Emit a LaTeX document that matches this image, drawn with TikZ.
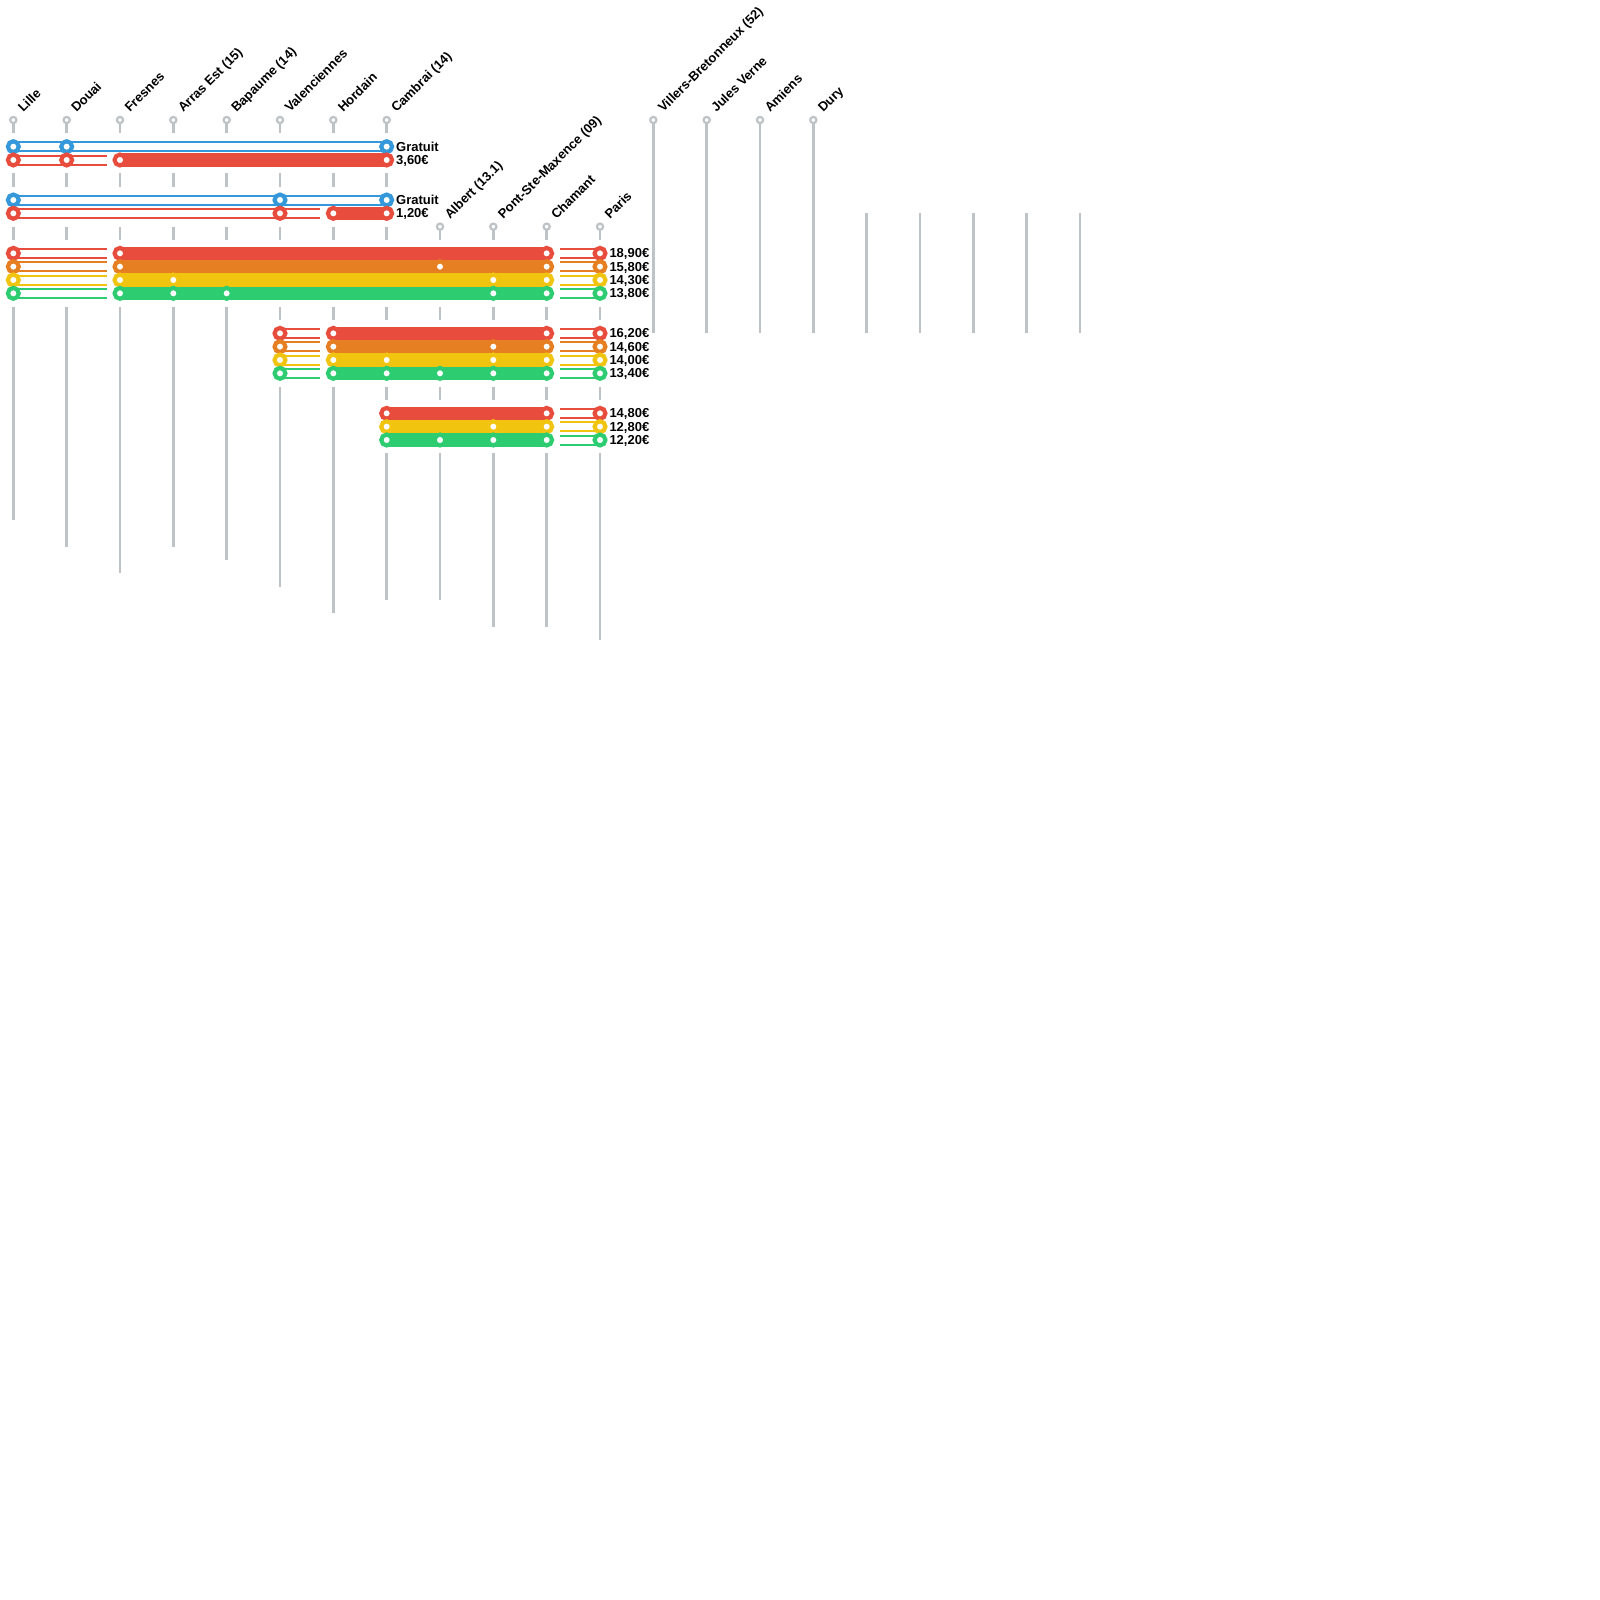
\documentclass[tikz,border=0pt]{standalone}
\usepackage{fontspec}
\setmainfont{Liberation Sans}
\usetikzlibrary{calc}
\definecolor{cblue}{HTML}{3498DB}
\definecolor{cred}{HTML}{E74C3C}
\definecolor{corange}{HTML}{E67E22}
\definecolor{cyellow}{HTML}{F1C40F}
\definecolor{cgreen}{HTML}{2ECC71}
\definecolor{cgray}{HTML}{BDC3C7}
\newcommand\ob[3]{\draw[obar=#1] (#2) -- (#3); \draw[oin] (#2) -- (#3);}
\newcommand\fb[3]{\draw[fbar=#1] (#2) -- (#3);}
\newcommand\rg[3]{\node[ring=#1] (r#2-#3) at (c#3|-k#2) {};}
% full fare row: colour, row, start column, fill start column, price
\newcommand\grow[5]{%
  \coordinate (L#2) at ($(c#4|-k#2)+(-13.3333,0)$);
  \coordinate (R#2) at ($(c10|-k#2)+(13.3333,0)$);
  \ob{#1}{c#3|-k#2}{L#2}
  \fb{#1}{c#4|-k#2}{c10|-k#2}
  \ob{#1}{R#2}{c11|-k#2}
  \rg{#1}{#2}{#3}\rg{#1}{#2}{#4}\rg{#1}{#2}{10}\rg{#1}{#2}{11}
  \node[price] (p#2) at (c11|-k#2) {#5};}
% fare row without left part: colour, row, price
\newcommand\hrow[3]{%
  \coordinate (R#2) at ($(c10|-k#2)+(13.3333,0)$);
  \fb{#1}{c7|-k#2}{c10|-k#2}
  \ob{#1}{R#2}{c11|-k#2}
  \rg{#1}{#2}{7}\rg{#1}{#2}{10}\rg{#1}{#2}{11}
  \node[price] (p#2) at (c11|-k#2) {#3};}
\begin{document}
\begin{tikzpicture}[x=1pt,y=-1pt,
  grayline/.style={draw=cgray,line width=2.8pt},
  marker/.style={circle,draw=cgray,fill=white,line width=2.2pt,minimum size=6.2pt,inner sep=0pt},
  ring/.style={circle,draw=#1,fill=white,line width=4.2pt,minimum size=10.8pt,inner sep=0pt},
  fbar/.style={draw=#1,line width=13.3333pt},
  obar/.style={draw=#1,line width=11pt},
  oin/.style={draw=white,line width=7pt},
  txt/.style={font=\fontsize{13pt}{15pt}\selectfont\bfseries,inner sep=0pt,outer sep=0pt},
  stlabel/.style={txt,anchor=base west,rotate=45},
  price/.style={txt,anchor=base west,xshift=9.5pt,yshift=-4.5pt},
]
\fill[white] (0,0) rectangle (1600,1600);
\useasboundingbox (0,0) rectangle (1600,1600);
\foreach \i in {0,...,20} \coordinate (c\i) at ({13.3333+53.3333*\i},0);
\foreach \k in {0,...,40} \coordinate (k\k) at (0,{120+13.3333*\k});
% gray station lines
\foreach \i/\s/\e in {0/0/30,1/0/32,2/0/34,3/0/32,4/0/33,5/0/35,6/0/37,7/0/36,
  8/8/36,9/8/38,10/8/38,11/8/39,12/0/16,13/0/16,14/0/16,15/0/16,
  16/7/16,17/7/16,18/7/16,19/7/16,20/7/16}
  \draw[grayline] (c\i|-k\s) -- (c\i|-k\e);
% white gaps around fare groups
\fill[white] ($(c0|-k1)+(-9,0)$) rectangle ($(c7|-k4)+(9,0)$);
\fill[white] ($(c0|-k5)+(-9,0)$) rectangle ($(c7|-k8)+(9,0)$);
\fill[white] ($(c0|-k9)+(-9,0)$) rectangle ($(c11|-k14)+(9,0)$);
\fill[white] ($(c5|-k15)+(-9,0)$) rectangle ($(c11|-k20)+(9,0)$);
\fill[white] ($(c7|-k21)+(-9,0)$) rectangle ($(c11|-k25)+(9,0)$);
% station markers and names
\foreach \i/\s/\name in {0/0/Lille,1/0/Douai,2/0/Fresnes,3/0/Arras Est (15),
  4/0/Bapaume (14),5/0/Valenciennes,6/0/Hordain,7/0/Cambrai (14),
  8/8/Albert (13.1),9/8/Pont-Ste-Maxence (09),10/8/Chamant,11/8/Paris,
  12/0/Villers-Bretonneux (52),13/0/Jules Verne,14/0/Amiens,15/0/Dury}
{
  \node[marker] (m\i) at (c\i|-k\s) {};
  \node[stlabel] (n\i) at ([xshift=10pt,yshift=7pt]m\i.center) {\name};
}
% group 1
\ob{cblue}{c0|-k2}{c7|-k2}
\rg{cblue}{2}{0}\rg{cblue}{2}{1}\rg{cblue}{2}{7}
\node[price] (p2) at (c7|-k2) {Gratuit};
\coordinate (L3) at ($(c2|-k3)+(-13.3333,0)$);
\ob{cred}{c0|-k3}{L3}
\fb{cred}{c2|-k3}{c7|-k3}
\rg{cred}{3}{0}\rg{cred}{3}{1}\rg{cred}{3}{2}\rg{cred}{3}{7}
\node[price] (p3) at (c7|-k3) {3,60€};
% group 2
\ob{cblue}{c0|-k6}{c7|-k6}
\rg{cblue}{6}{0}\rg{cblue}{6}{5}\rg{cblue}{6}{7}
\node[price] (p6) at (c7|-k6) {Gratuit};
\coordinate (L7) at ($(c6|-k7)+(-13.3333,0)$);
\ob{cred}{c0|-k7}{L7}
\fb{cred}{c6|-k7}{c7|-k7}
\rg{cred}{7}{0}\rg{cred}{7}{5}\rg{cred}{7}{6}\rg{cred}{7}{7}
\node[price] (p7) at (c7|-k7) {1,20€};
% group 3
\grow{cred}{10}{0}{2}{18,90€}
\grow{corange}{11}{0}{2}{15,80€}
\rg{corange}{11}{8}
\grow{cyellow}{12}{0}{2}{14,30€}
\rg{cyellow}{12}{3}\rg{cyellow}{12}{9}
\grow{cgreen}{13}{0}{2}{13,80€}
\rg{cgreen}{13}{3}\rg{cgreen}{13}{4}\rg{cgreen}{13}{9}
% group 4
\grow{cred}{16}{5}{6}{16,20€}
\grow{corange}{17}{5}{6}{14,60€}
\rg{corange}{17}{9}
\grow{cyellow}{18}{5}{6}{14,00€}
\rg{cyellow}{18}{7}\rg{cyellow}{18}{9}
\grow{cgreen}{19}{5}{6}{13,40€}
\rg{cgreen}{19}{7}\rg{cgreen}{19}{8}\rg{cgreen}{19}{9}
% group 5
\hrow{cred}{22}{14,80€}
\hrow{cyellow}{23}{12,80€}
\rg{cyellow}{23}{9}
\hrow{cgreen}{24}{12,20€}
\rg{cgreen}{24}{8}\rg{cgreen}{24}{9}
\end{tikzpicture}
\end{document}
